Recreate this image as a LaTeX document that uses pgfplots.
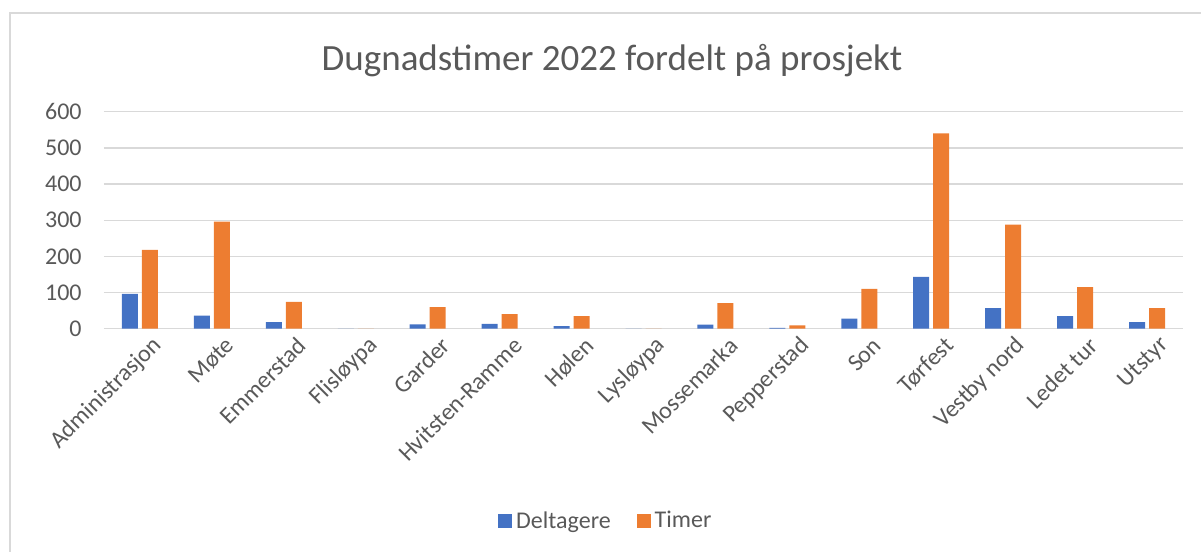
\documentclass[border=0pt]{standalone}
\usepackage{pgfplots}
\pgfplotsset{compat=1.18}
\usepackage{fontspec}
\setmainfont{Carlito}
\definecolor{txt}{RGB}{89,89,89}
\definecolor{grd}{RGB}{217,217,217}
\definecolor{cblue}{RGB}{68,114,196}
\definecolor{corange}{RGB}{237,125,49}
\begin{document}
\begin{tikzpicture}
\useasboundingbox (0,0) rectangle (600.5pt,276pt);
\draw[grd, line width=0.7pt] (5pt,0pt) -- (5pt,269.5pt) -- (600.5pt,269.5pt);
\node[anchor=base, text=txt, font=\fontsize{18.5pt}{22pt}\selectfont] at (306pt,240.5pt) {Dugnadstimer 2022 fordelt på prosjekt};
\begin{axis}[
  at={(52pt,111.65pt)}, anchor=south west,
  width=539.5pt, height=108.5pt, scale only axis,
  ybar=2pt, bar width=8pt,
  xmin=-0.5, xmax=14.5, ymin=0, ymax=600,
  ytick={0,100,...,600},
  xtick={0,...,14},
  xticklabels={Administrasjon,Møte,Emmerstad,Flisløypa,Garder,Hvitsten-Ramme,Hølen,Lysløypa,Mossemarka,Pepperstad,Son,Tørfest,Vestby nord,Ledet tur,Utstyr},
  axis line style={draw=none},
  ymajorgrids, major grid style={grd, line width=0.7pt},
  major tick length=0pt,
  tick label style={text=txt, font=\fontsize{12pt}{14pt}\selectfont},
  /pgf/number format/assume math mode=true,
  yticklabel style={anchor=east, inner sep=0pt, xshift=-11pt},
  xticklabel style={rotate=45, anchor=east, inner sep=0pt, xshift=2pt, yshift=-11pt},
  legend style={at={(0.466,-0.887)}, anchor=center, draw=none, fill=none,
    legend columns=2, text=txt, font=\fontsize{12pt}{14pt}\selectfont,
    /tikz/every even column/.append style={column sep=11pt}},
  legend image code/.code={\fill[#1] (0pt,-3.5pt) rectangle (7pt,3.5pt);},
]
\addplot[fill=cblue, draw=none] coordinates {(0,96) (1,36) (2,18) (3,0) (4,12) (5,13) (6,7) (7,0) (8,11) (9,2) (10,28) (11,143) (12,57) (13,35) (14,18)};
\addplot[fill=corange, draw=none] coordinates {(0,218) (1,296) (2,74) (3,0) (4,60) (5,40) (6,35) (7,0) (8,71) (9,9) (10,110) (11,540) (12,288) (13,115) (14,57)};
\legend{Deltagere,Timer}
\end{axis}
\end{tikzpicture}
\end{document}
